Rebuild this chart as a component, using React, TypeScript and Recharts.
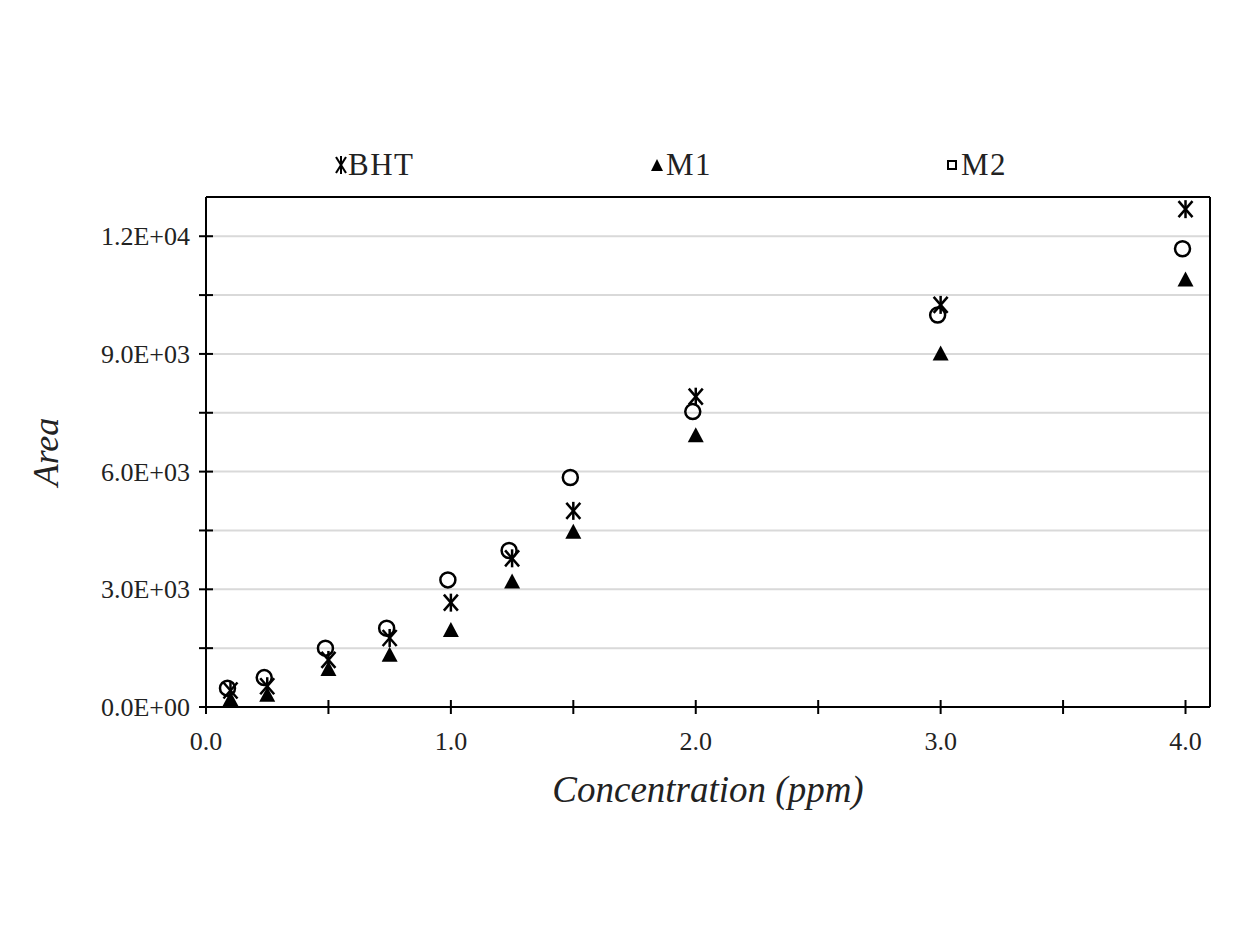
import { ScatterChart, Scatter, XAxis, YAxis, CartesianGrid, ReferenceLine } from 'recharts'

// concentration (ppm) and peak area per compound
const concentration = [0.1, 0.25, 0.5, 0.75, 1.0, 1.25, 1.5, 2.0, 3.0, 4.0]
const bhtArea = [420, 530, 1200, 1760, 2660, 3790, 5000, 7910, 10250, 12690]
const m1Area = [200, 310, 970, 1330, 1960, 3200, 4470, 6930, 9010, 10900]
const m2Area = [480, 750, 1500, 2010, 3240, 3990, 5850, 7530, 9990, 11680]

const xTicks = [0, 0.5, 1.0, 1.5, 2.0, 2.5, 3.0, 3.5, 4.0]
const yTicks = [0, 1500, 3000, 4500, 6000, 7500, 9000, 10500, 12000]

const FONT = '"Liberation Serif", "Times New Roman", serif'
const INK = '#222'

const toPoints = (ys: number[]) => concentration.map((x, i) => ({ x, y: ys[i] }))

const fmtSci = (v: number) => {
  const [m, e] = v.toExponential(1).toUpperCase().split('E')
  const n = Number(e)
  return `${m}E${n < 0 ? '-' : '+'}${String(Math.abs(n)).padStart(2, '0')}`
}

const Star = ({ cx, cy }: any) => (
  <g stroke="#000" strokeWidth={2.5}>
    <line x1={cx - 7} y1={cy - 8} x2={cx + 7} y2={cy + 8} />
    <line x1={cx - 7} y1={cy + 8} x2={cx + 7} y2={cy - 8} />
    <line x1={cx} y1={cy - 9} x2={cx} y2={cy + 9} />
  </g>
)
const Tri = ({ cx, cy }: any) => (
  <polygon points={`${cx},${cy - 8} ${cx + 8},${cy + 7} ${cx - 8},${cy + 7}`} fill="#000" />
)
const Ring = ({ cx, cy }: any) => (
  <circle cx={cx - 3} cy={cy} r={7.5} fill="none" stroke="#000" strokeWidth={2.5} />
)

const YTick = ({ x, y, payload }: any) => {
  const v = payload.value
  return (
    <g>
      <line x1={x + 9} x2={x + 23} y1={y} y2={y} stroke="#000" strokeWidth={2} />
      {v % 3000 === 0 && (
        <text x={x} y={y} dy="0.35em" textAnchor="end" fontFamily={FONT} fontSize={26} fill={INK}>
          {fmtSci(v)}
        </text>
      )}
    </g>
  )
}

const XTick = ({ x, y, payload }: any) => {
  const v = payload.value
  return (
    <g>
      <line x1={x} x2={x} y1={y - 22} y2={y - 8} stroke="#000" strokeWidth={2} />
      {Number.isInteger(v) && (
        <text x={x} y={y + 19} dy="0.35em" textAnchor="middle" fontFamily={FONT} fontSize={26} fill={INK}>
          {v.toFixed(1)}
        </text>
      )}
    </g>
  )
}

const legendItems = [
  { name: 'BHT', left: 335 },
  { name: 'M1', left: 650 },
  { name: 'M2', left: 947 },
]

const LegendIcon = ({ name }: { name: string }) => {
  if (name === 'BHT')
    return (
      <svg width={12} height={20} style={{ marginRight: 1 }}>
        <g stroke="#000" strokeWidth={2}>
          <line x1={1} y1={2} x2={11} y2={18} />
          <line x1={1} y1={18} x2={11} y2={2} />
          <line x1={6} y1={1} x2={6} y2={19} />
        </g>
      </svg>
    )
  if (name === 'M1')
    return (
      <svg width={14} height={14} style={{ marginRight: 2 }}>
        <polygon points="7,1 13,13 1,13" fill="#000" />
      </svg>
    )
  return (
    <svg width={10} height={10} style={{ marginRight: 4 }}>
      <rect x={1} y={1} width={8} height={8} fill="none" stroke="#000" strokeWidth={2} />
    </svg>
  )
}

export default function App() {
  return (
    <div style={{ position: 'absolute', left: 0, top: 0, width: 1260, height: 945, background: '#fff' }}>
      <ScatterChart width={1260} height={945} margin={{ top: 197, right: 50, bottom: 138, left: 0 }}>
        <CartesianGrid vertical={false} stroke="#d9d9d9" strokeWidth={2} />
        <XAxis
          type="number"
          dataKey="x"
          domain={[0, 4.1]}
          ticks={xTicks}
          interval={0}
          height={100}
          tickSize={7}
          tickMargin={8}
          tickLine={false}
          axisLine={{ stroke: '#000', strokeWidth: 2 }}
          tick={<XTick />}
          label={(p: any) => (
            <text
              x={p.viewBox.x + p.viewBox.width / 2}
              y={p.viewBox.y + 82}
              textAnchor="middle"
              dy="0.35em"
              fontFamily={FONT}
              fontStyle="italic"
              fontSize={37}
              fill={INK}
            >
              Concentration (ppm)
            </text>
          )}
        />
        <YAxis
          type="number"
          dataKey="y"
          domain={[0, 13000]}
          ticks={yTicks}
          interval={0}
          width={206}
          tickSize={7}
          tickMargin={9}
          tickLine={false}
          axisLine={{ stroke: '#000', strokeWidth: 2 }}
          tick={<YTick />}
          label={(p: any) => {
            const cy = p.viewBox.y + p.viewBox.height / 2
            return (
              <text
                x={45}
                y={cy}
                transform={`rotate(-90, 45, ${cy})`}
                textAnchor="middle"
                dy="0.35em"
                fontFamily={FONT}
                fontStyle="italic"
                fontSize={36}
                fill={INK}
              >
                Area
              </text>
            )
          }}
        />
        <ReferenceLine y={13000} stroke="#000" strokeWidth={2} />
        <ReferenceLine x={4.1} stroke="#000" strokeWidth={2} />
        <Scatter name="BHT" data={toPoints(bhtArea)} shape={(p: any) => <Star {...p} />} isAnimationActive={false} />
        <Scatter name="M1" data={toPoints(m1Area)} shape={(p: any) => <Tri {...p} />} isAnimationActive={false} />
        <Scatter name="M2" data={toPoints(m2Area)} shape={(p: any) => <Ring {...p} />} isAnimationActive={false} />
      </ScatterChart>
      {legendItems.map((it) => (
        <div
          key={it.name}
          style={{
            position: 'absolute',
            left: it.left,
            top: 146,
            height: 38,
            display: 'flex',
            alignItems: 'center',
            fontFamily: FONT,
            fontSize: 31,
            letterSpacing: 1.5,
            color: INK,
          }}
        >
          <LegendIcon name={it.name} />
          <span>{it.name}</span>
        </div>
      ))}
    </div>
  )
}
